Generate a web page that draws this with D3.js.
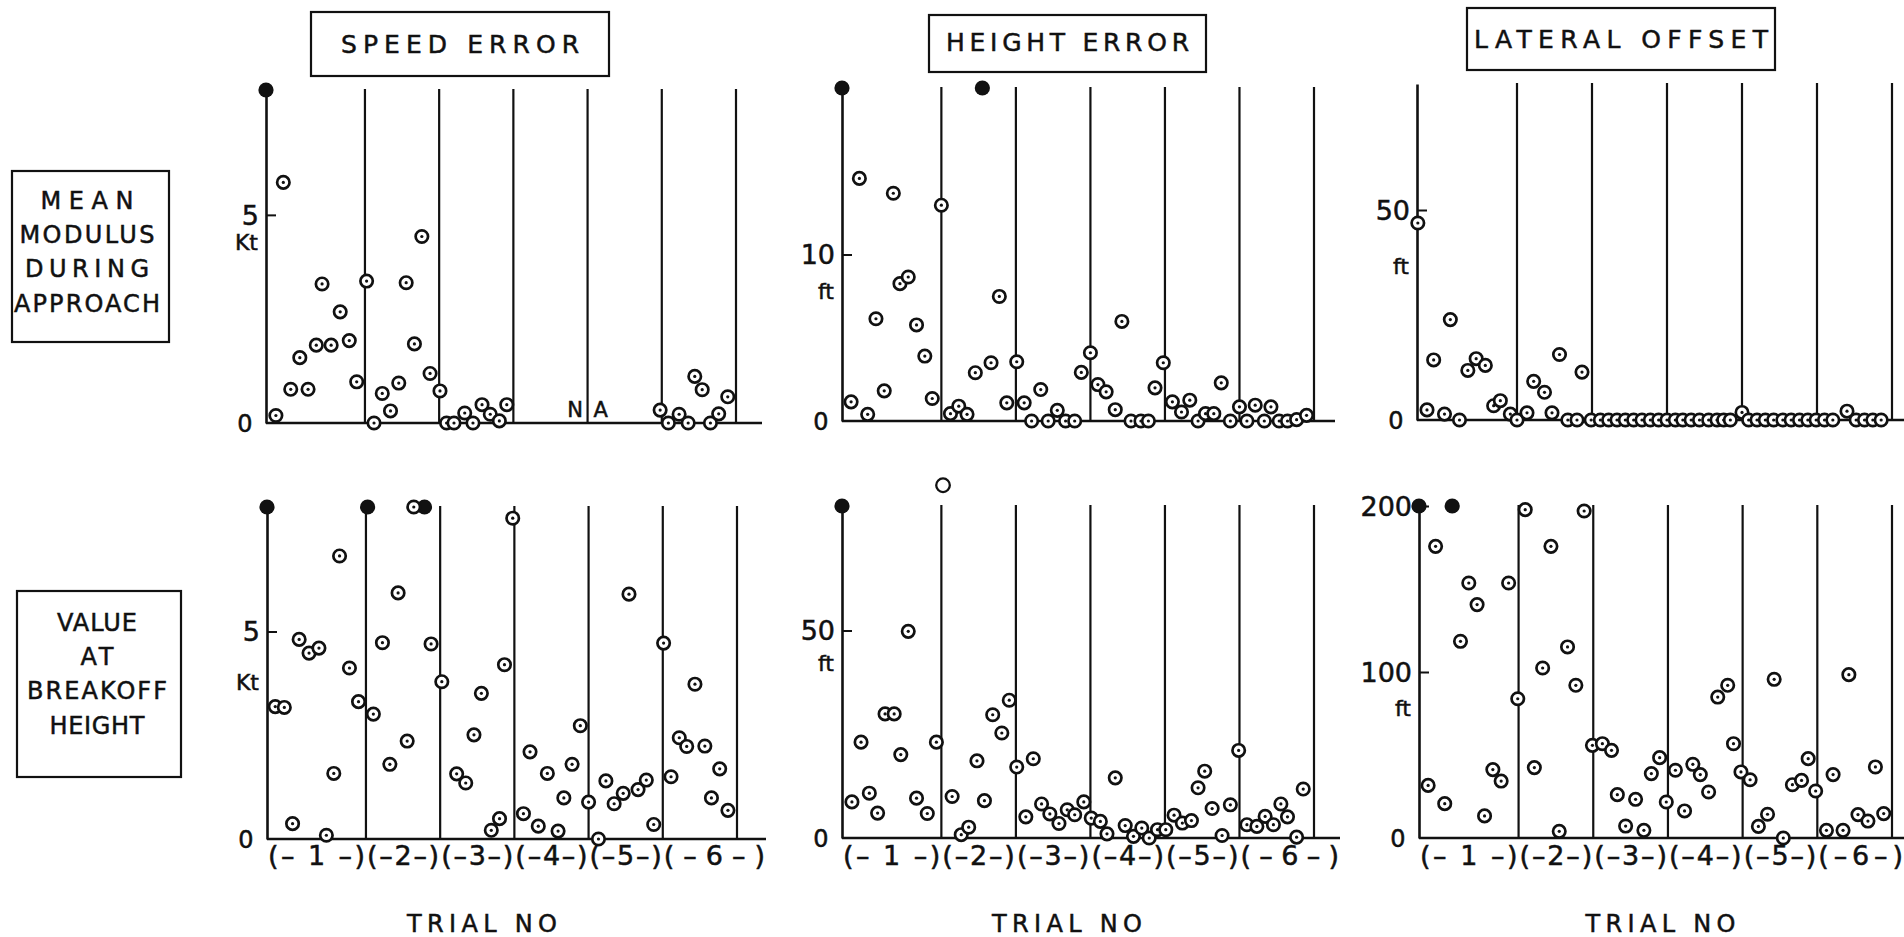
<!DOCTYPE html>
<html>
<head>
<meta charset="utf-8">
<script src="https://cdn.jsdelivr.net/npm/d3@7"></script>
<style>
body { margin: 0; background: #fff; }
text { font-family: "DejaVu Sans", sans-serif; fill: #111; stroke: #111; stroke-width: 0.5px; }
</style>
</head>
<body>
<script>
const width = 1904,
      height = 937;

// subject slots along each panel, trials split at these slots
const trialBounds = [0, 12, 21, 30, 39, 48, 57];
const trialNames = ["1", "2", "3", "4", "5", "6"];
const columnTitles = ["SPEED ERROR", "HEIGHT ERROR", "LATERAL OFFSET"];
const rowTitles = [["MEAN", "MODULUS", "DURING", "APPROACH"],
                   ["VALUE", "AT", "BREAKOFF", "HEIGHT"]];
const units = ["Kt", "ft", "ft"];

// [slot, value]
const speedMean = [[1.2,0.18],[2.1,5.78],[3.0,0.81],[4.1,1.57],[5.1,0.81],[6.1,1.87],[6.8,3.34],[7.9,1.87],
    [9.0,2.67],[10.1,1.98],[11.0,0.99],[12.2,3.41],[13.1,0],[14.1,0.71],[15.1,0.29],[16.1,0.96],[17.0,3.37],
    [18.0,1.90],[18.9,4.48],[19.9,1.19],[21.1,0.77],[21.9,0],[22.8,0],[24.1,0.24],[25.1,0],[26.2,0.44],
    [27.2,0.21],[28.3,0.05],[29.2,0.44],[47.8,0.31],[48.8,0],[50.1,0.21],[51.2,0],[52.0,1.12],[52.9,0.80],
    [53.9,0],[54.9,0.22],[56.0,0.63]];
const heightMean = [[1.1,1.15],[2.1,14.57],[3.1,0.40],[4.1,6.14],[5.1,1.81],[6.2,13.68],[7.0,8.25],[8.0,8.65],
    [9.0,5.77],[10.0,3.90],[10.9,1.35],[12.0,12.96],[13.1,0.44],[14.1,0.89],[15.1,0.40],[16.1,2.90],[18.0,3.50],
    [19.0,7.48],[19.9,1.09],[21.1,3.56],[22.0,1.09],[22.9,0],[24.0,1.89],[24.9,0],[26.0,0.64],[27.0,0],[28.1,0],
    [28.9,2.92],[30.0,4.10],[30.9,2.19],[31.9,1.75],[33.0,0.68],[33.8,5.98],[34.9,0],[36.1,0],[37.0,0],
    [37.8,1.99],[38.8,3.50],[39.9,1.15],[41.0,0.54],[42.0,1.25],[43.0,0],[43.9,0.44],[44.9,0.44],[45.8,2.29],
    [46.9,0],[48.0,0.85],[48.9,0],[49.9,0.95],[51.0,0],[51.8,0.85],[52.8,0],[53.8,0],[54.9,0.08],[56.1,0.34]];
const lateralMean = [[0.1,46.9],[1.2,2.4],[2.0,14.3],[3.3,1.4],[4.0,23.9],[5.1,0],[6.1,11.8],[7.1,14.6],
    [8.2,13.0],[9.2,3.4],[10.0,4.6],[11.2,1.4],[12.0,0],[13.2,1.7],[14.0,9.2],[15.3,6.6],[16.2,1.7],[17.1,15.6],
    [18.1,0],[19.2,0],[19.8,11.4],[20.9,0],[22.0,0],[23.0,0],[24.0,0],[25.0,0],[26.0,0],[27.0,0],[28.0,0],
    [29.0,0],[30.0,0],[31.0,0],[31.9,0],[32.9,0],[33.9,0],[35.0,0],[36.0,0],[36.8,0],[37.6,0],[39.0,1.8],
    [39.8,0],[40.8,0],[41.8,0],[42.8,0],[43.9,0],[44.9,0],[45.9,0],[46.9,0],[47.9,0],[48.9,0],[49.9,0],
    [51.6,2.1],[52.7,0],[53.7,0],[54.7,0],[55.7,0]];
const speedBreakoff = [[1.0,3.19],[2.1,3.17],[3.1,0.37],[3.9,4.81],[5.1,4.48],[6.3,4.60],[7.2,0.09],[8.1,1.58],
    [8.8,6.82],[10.0,4.12],[11.1,3.31],[12.9,3.01],[14.0,4.73],[14.9,1.80],[15.9,5.93],[17.0,2.36],[17.8,8.0],
    [19.9,4.70],[21.2,3.79],[23.0,1.57],[24.1,1.35],[25.1,2.51],[26.0,3.51],[27.2,0.21],[28.2,0.49],[28.8,4.20],
    [29.8,7.73],[31.1,0.61],[31.9,2.10],[32.9,0.31],[34.0,1.58],[35.3,0.19],[36.0,0.99],[37.0,1.80],[38.0,2.73],
    [39.0,0.89],[40.2,0],[41.1,1.40],[42.1,0.85],[43.2,1.10],[43.9,5.90],[45.0,1.19],[46.0,1.42],[46.9,0.35],
    [48.1,4.72],[49.0,1.50],[50.0,2.44],[50.9,2.23],[51.9,3.73],[53.1,2.24],[53.9,0.99],[54.9,1.69],[55.9,0.69]];
const heightBreakoff = [[1.2,8.7],[2.3,23.1],[3.3,10.8],[4.3,6.0],[5.2,29.9],[6.3,29.9],[7.1,20.1],[8.0,49.8],
    [9.0,9.6],[10.3,5.9],[11.4,23.1],[13.3,10.0],[14.4,0.8],[15.3,2.6],[16.3,18.6],[17.2,9.0],[18.2,29.7],
    [19.3,25.3],[20.2,33.2],[21.1,17.1],[22.2,5.1],[23.1,19.1],[24.1,8.2],[25.1,5.8],[26.2,3.5],[27.2,6.8],
    [28.1,5.6],[29.2,8.7],[30.1,4.8],[31.2,4.0],[32.0,1.0],[33.0,14.5],[34.2,3.0],[35.2,0.4],[36.2,2.4],[37.1,0],
    [38.1,2.0],[39.1,2.0],[40.1,5.5],[41.1,3.6],[42.2,4.2],[43.0,12.1],[43.8,16.1],[44.7,7.1],[45.9,0.6],
    [46.9,8.0],[47.9,21.1],[48.9,3.2],[50.1,2.8],[51.1,5.2],[52.1,3.2],[53.0,8.2],[53.8,5.1],[54.9,0.2],[55.7,11.8]];
const lateralBreakoff = [[1.1,31.7],[2.0,175.7],[3.1,20.7],[5.0,118.5],[6.0,153.6],[7.0,140.6],[7.9,13.3],
    [8.9,41.2],[9.9,34.3],[10.8,153.6],[11.9,83.9],[12.8,197.8],[13.9,42.4],[14.9,102.4],[15.9,175.7],[16.9,4.0],
    [17.9,115.1],[18.9,92.0],[19.9,197.0],[20.9,55.8],[22.1,56.8],[23.2,52.8],[23.9,26.1],[24.9,7.2],[26.1,23.3],
    [27.1,4.6],[28.0,38.8],[29.0,48.4],[29.8,21.7],[30.9,40.8],[32.0,16.3],[33.0,44.4],[33.9,38.2],[34.9,27.7],
    [36.0,84.9],[37.2,92.0],[37.9,56.8],[38.8,39.8],[39.9,35.1],[40.9,7.0],[42.0,14.3],[42.8,95.6],[43.9,0],
    [45.0,32.1],[46.1,34.7],[46.9,47.8],[47.8,28.3],[49.1,4.6],[49.9,38.2],[51.1,4.6],[51.8,98.4],[52.9,14.1],
    [54.1,10.2],[55.0,42.8],[56.0,14.7]];

// off scale values: filled dots drawn at the top of the axis
const speedMeanOff = [0];
const heightMeanOff = [0, 16.95];
const lateralMeanOff = [];
const speedBreakoffOff = [0, 12.2, 19.1];
const heightBreakoffOff = [0];
const lateralBreakoffOff = [0, 4.0];
// open circle without centre dot, above the scale
const heightBreakoffOpen = [[12.2, 85]];

const panels = [
    {row: 0, col: 0, data: speedMean, off: speedMeanOff, open: [], yMax: 8, ticks: [5]},
    {row: 0, col: 1, data: heightMean, off: heightMeanOff, open: [], yMax: 20, ticks: [10]},
    {row: 0, col: 2, data: lateralMean, off: lateralMeanOff, open: [], yMax: 80, ticks: [50]},
    {row: 1, col: 0, data: speedBreakoff, off: speedBreakoffOff, open: [], yMax: 8, ticks: [5]},
    {row: 1, col: 1, data: heightBreakoff, off: heightBreakoffOff, open: heightBreakoffOpen, yMax: 80, ticks: [50]},
    {row: 1, col: 2, data: lateralBreakoff, off: lateralBreakoffOff, open: [], yMax: 200, ticks: [100, 200]}
];

// pixel frame of each panel
const frames = [
    {x0: 266, x1: 736, xEnd: 762, yTop: 90, yBase: 423, unitDy: 27},
    {x0: 842, x1: 1314, xEnd: 1335, yTop: 88, yBase: 421, unitDy: 37},
    {x0: 1417, x1: 1892, xEnd: 1904, yTop: 84, yBase: 420, unitDy: 56},
    {x0: 267, x1: 737, xEnd: 766, yTop: 507, yBase: 839, unitDy: 51, nameDx: -20},
    {x0: 842, x1: 1314, xEnd: 1340, yTop: 506, yBase: 838, unitDy: 33, nameDx: -11},
    {x0: 1419, x1: 1892, xEnd: 1904, yTop: 506, yBase: 838, unitDy: 36, nameDx: 5}
];

const ink = "#111";

let svg = d3.select("body")
    .append("svg")
    .attr("width", width)
    .attr("height", height)
    .style("background", "#fff");

function drawPanel(p, f) {
    let g = svg.append("g");
    let x = d3.scaleLinear().domain([0, 57]).range([f.x0, f.x1]);
    let y = d3.scaleLinear().domain([0, p.yMax]).range([f.yBase, f.yTop]);

    // baseline
    g.append("line")
        .attr("x1", f.x0).attr("x2", f.xEnd)
        .attr("y1", y(0)).attr("y2", y(0))
        .attr("stroke", ink).attr("stroke-width", 2.6);

    // trial dividers
    g.selectAll(".divider")
        .data(trialBounds.slice(1))
        .join("line")
        .attr("class", "divider")
        .attr("x1", d => x(d)).attr("x2", d => x(d))
        .attr("y1", y(0)).attr("y2", y(p.yMax) - 1)
        .attr("stroke", ink).attr("stroke-width", 2.2);

    // y axis with short ticks pointing inwards
    let axis = d3.axisRight(y).tickValues(p.ticks).tickSize(10).tickSizeOuter(0).tickFormat("");
    let ag = g.append("g")
        .attr("transform", "translate(" + f.x0 + ",0)")
        .call(axis);
    ag.select(".domain").attr("stroke", ink).attr("stroke-width", 2.6);
    ag.selectAll(".tick line").attr("stroke", ink).attr("stroke-width", 2);

    // tick labels
    g.selectAll(".tlabel")
        .data(p.ticks)
        .join("text")
        .attr("class", "tlabel")
        .attr("x", f.x0 - 7)
        .attr("y", d => y(d))
        .attr("dy", "0.36em")
        .attr("text-anchor", "end")
        .style("font-size", "27px")
        .text(d => d);

    g.append("text")
        .attr("x", f.x0 - 8)
        .attr("y", y(p.ticks[0]) + f.unitDy)
        .attr("dy", "0.36em")
        .attr("text-anchor", "end")
        .style("font-size", "22px")
        .text(units[p.col]);

    g.append("text")
        .attr("x", f.x0 - 21)
        .attr("y", y(0))
        .attr("dy", "0.36em")
        .attr("text-anchor", "middle")
        .style("font-size", "24px")
        .text("0");

    // off scale filled dots
    g.selectAll(".off")
        .data(p.off)
        .join("circle")
        .attr("class", "off")
        .attr("cx", d => x(d))
        .attr("cy", y(p.yMax))
        .attr("r", 7.6)
        .attr("fill", ink);

    g.selectAll(".open")
        .data(p.open)
        .join("circle")
        .attr("class", "open")
        .attr("cx", d => x(d[0]))
        .attr("cy", d => y(d[1]))
        .attr("r", 6.8)
        .attr("fill", "#fff")
        .attr("stroke", ink).attr("stroke-width", 2.3);

    // data points, circle with centre dot
    g.selectAll(".pt")
        .data(p.data)
        .join("circle")
        .attr("class", "pt")
        .attr("cx", d => x(d[0]))
        .attr("cy", d => y(d[1]))
        .attr("r", 6.2)
        .attr("fill", "#fff")
        .attr("stroke", ink).attr("stroke-width", 2.7);

    g.selectAll(".ctr")
        .data(p.data)
        .join("circle")
        .attr("class", "ctr")
        .attr("cx", d => x(d[0]))
        .attr("cy", d => y(d[1]))
        .attr("r", 1.6)
        .attr("fill", ink);

    // trials 4 and 5 not available for speed error mean
    if (p.row === 0 && p.col === 0) {
        g.append("text")
            .attr("x", x(trialBounds[4]))
            .attr("y", y(0) - 14)
            .attr("dy", "0.36em")
            .attr("text-anchor", "middle")
            .style("font-size", "21px")
            .text("N\u2002A");
    }

    // trial number labels under the bottom row
    if (p.row === 1) {
        g.selectAll(".trial")
            .data(trialNames)
            .join("text")
            .attr("class", "trial")
            .attr("x", (d, i) => {
                let a = x(trialBounds[i]), b = i === 5 ? f.xEnd : x(trialBounds[i + 1]);
                return (a + b) / 2;
            })
            .attr("y", 855)
            .attr("dy", "0.36em")
            .attr("text-anchor", "middle")
            .attr("textLength", (d, i) => {
                let a = x(trialBounds[i]), b = i === 5 ? f.xEnd : x(trialBounds[i + 1]);
                return b - a - 2;
            })
            .style("font-size", "27px")
            .text((d, i) => i === 0 ? "(\u2013 " + d + " \u2013)" : "(\u2013" + d + "\u2013)");

        g.append("text")
            .attr("x", (f.x0 + f.x1) / 2 + f.nameDx)
            .attr("y", 923)
            .attr("dy", "0.36em")
            .attr("text-anchor", "middle")
            .attr("textLength", 150)
            .style("font-size", "24px")
            .text("TRIAL NO");
    }
}

panels.forEach((p, i) => drawPanel(p, frames[i]));

// column titles in boxes
const titleBoxes = [
    {x: 311, y: 12, w: 298, h: 64, ty: 44, tl: 238},
    {x: 929, y: 15, w: 277, h: 57, ty: 42, tl: 243},
    {x: 1467, y: 8, w: 308, h: 62, ty: 39, tl: 294}
];
titleBoxes.forEach((b, i) => {
    svg.append("rect")
        .attr("x", b.x).attr("y", b.y)
        .attr("width", b.w).attr("height", b.h)
        .attr("fill", "none").attr("stroke", ink).attr("stroke-width", 2.2);
    svg.append("text")
        .attr("x", b.x + b.w / 2)
        .attr("y", b.ty)
        .attr("dy", "0.36em")
        .attr("text-anchor", "middle")
        .attr("textLength", b.tl)
        .style("font-size", "25px")
        .text(columnTitles[i]);
});

// row titles in boxes
const rowBoxes = [
    {x: 12, y: 171, w: 157, h: 171, cx: 87, lines: [200, 234, 268, 303], tl: [93, 135, 124, 146]},
    {x: 17, y: 591, w: 164, h: 186, cx: 97, lines: [622, 656, 690, 725], tl: [80, 33, 140, 95]}
];
rowBoxes.forEach((b, i) => {
    svg.append("rect")
        .attr("x", b.x).attr("y", b.y)
        .attr("width", b.w).attr("height", b.h)
        .attr("fill", "none").attr("stroke", ink).attr("stroke-width", 2.2);
    svg.selectAll(".row" + i)
        .data(rowTitles[i])
        .join("text")
        .attr("class", "row" + i)
        .attr("x", b.cx)
        .attr("y", (d, j) => b.lines[j])
        .attr("dy", "0.36em")
        .attr("text-anchor", "middle")
        .attr("textLength", (d, j) => b.tl[j])
        .style("font-size", "24px")
        .text(d => d);
});
</script>
</body>
</html>
